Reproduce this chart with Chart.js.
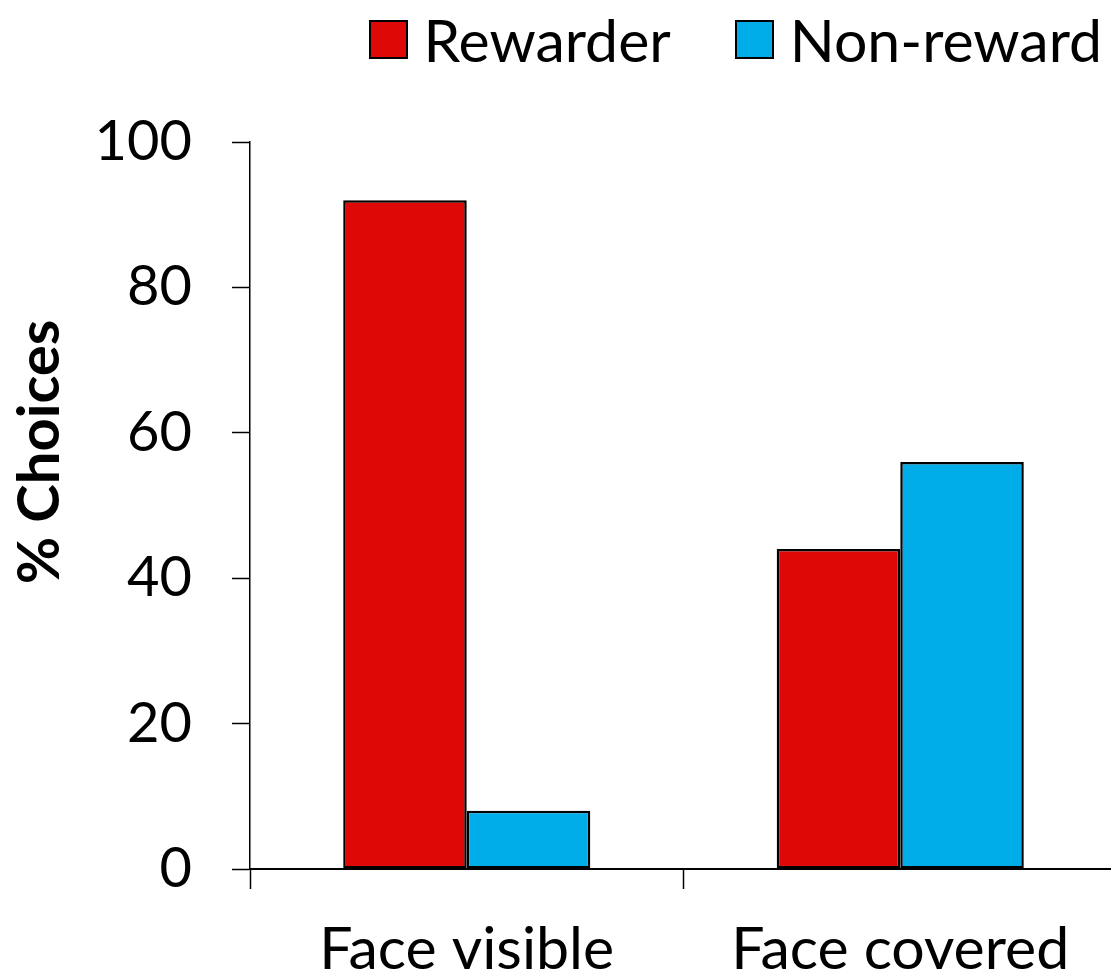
<!DOCTYPE html>
<html>
<head>
<meta charset="utf-8">
<script src="https://cdn.jsdelivr.net/npm/chart.js@4"></script>
<style>
  html, body { margin: 0; padding: 0; background: #fff; overflow: hidden; }
  #wrap { position: relative; width: 1117px; height: 976px; }
  #legend { position: absolute; top: 4px; right: 15px; display: flex; align-items: center;
            font-family: Lato, sans-serif; font-size: 59px; color: #000; }
  #legend .item { display: flex; align-items: center; margin-left: 64px; }
  #legend .box { width: 35px; height: 35px; border: 2px solid #000; margin-right: 16px; }
</style>
</head>
<body>
<div id="wrap">
  <div id="legend"></div>
  <canvas id="choicesChart"></canvas>
</div>
<script>
const categories = ['Face visible', 'Face covered'];
const rewarder = [92, 44];
const nonReward = [8, 56];
const yTicks = [0, 20, 40, 60, 80, 100];

const FONT = 'Lato';
const seriesColors = ['#DE0906', '#00ADE8'];

// y axis title drawn by hand so it sits where the original puts it
const yTitle = {
    id: 'yTitle',
    afterDraw(chart) {
        const c = chart.ctx;
        c.save();
        c.translate(40, 452);
        c.rotate(-Math.PI / 2);
        c.font = 'bold 58px ' + FONT;
        c.fillStyle = '#000';
        c.textAlign = 'center';
        c.textBaseline = 'middle';
        c.fillText('% Choices', 0, 0);
        c.restore();
    }
};

const ctx = document.getElementById('choicesChart').getContext('2d');

const chart = new Chart(ctx, {
    type: 'bar',
    data: {
        labels: categories,
        datasets: [
            {
                label: 'Rewarder',
                data: rewarder,
                backgroundColor: seriesColors[0],
                borderColor: '#000',
                borderWidth: 2.5,
                borderSkipped: false
            },
            {
                label: 'Non-reward',
                data: nonReward,
                backgroundColor: seriesColors[1],
                borderColor: '#000',
                borderWidth: 2.5,
                borderSkipped: false
            }
        ]
    },
    options: {
        responsive: true,
        maintainAspectRatio: false,
        animation: false,
        categoryPercentage: 0.57,
        barPercentage: 1.0,
        layout: { padding: { top: 142, right: 0, bottom: 0, left: 0 } },
        plugins: {
            tooltip: { enabled: false },
            legend: { display: false }
        },
        scales: {
            x: {
                grid: {
                    offset: true,
                    drawOnChartArea: false,
                    tickLength: 20,
                    tickColor: '#000',
                    tickWidth: 1.5
                },
                border: { color: '#000', width: 2 },
                ticks: {
                    color: '#000',
                    font: { family: FONT, size: 59 },
                    padding: 26
                },
                afterFit(s) { s.height = 107; }
            },
            y: {
                min: 0,
                max: 100,
                afterBuildTicks(s) { s.ticks = yTicks.map(v => ({ value: v })); },
                grid: {
                    drawOnChartArea: false,
                    tickLength: 18,
                    tickColor: '#000',
                    tickWidth: 1.5
                },
                border: { color: '#000', width: 1.5 },
                ticks: {
                    color: '#000',
                    font: { family: FONT, size: 56 },
                    padding: 40
                },
                afterFit(s) { s.width = 250; }
            }
        }
    },
    plugins: [yTitle]
});

// legend built from the datasets
const legendDiv = document.getElementById('legend');
chart.data.datasets.forEach(ds => {
    const item = document.createElement('div');
    item.className = 'item';
    const box = document.createElement('div');
    box.className = 'box';
    box.style.background = ds.backgroundColor;
    const txt = document.createElement('span');
    txt.textContent = ds.label;
    item.appendChild(box);
    item.appendChild(txt);
    legendDiv.appendChild(item);
});
</script>
</body>
</html>
